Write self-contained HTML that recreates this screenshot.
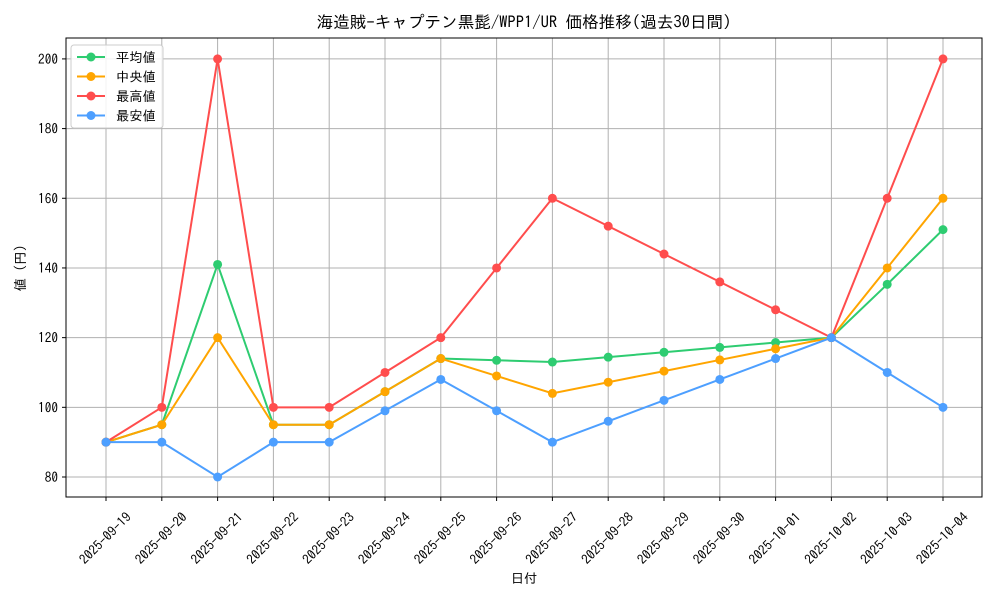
<!DOCTYPE html>
<html><head><meta charset="utf-8"><style>
body{margin:0;background:#fff;}
svg text{font-family:"IPAGothic","Noto Sans CJK JP",monospace;fill:#000;}
</style></head><body>
<svg id="chart" width="1000" height="600" xmlns="http://www.w3.org/2000/svg"></svg>
<script>
const categories=["2025-09-19","2025-09-20","2025-09-21","2025-09-22","2025-09-23","2025-09-24","2025-09-25","2025-09-26","2025-09-27","2025-09-28","2025-09-29","2025-09-30","2025-10-01","2025-10-02","2025-10-03","2025-10-04"];
const meanValues=[90,95,141,95,95,104.5,114,113.5,113,114.4,115.8,117.2,118.6,120,135.3,151];
const medianValues=[90,95,120,95,95,104.5,114,109,104,107.2,110.4,113.6,116.8,120,140,160];
const maxValues=[90,100,200,100,100,110,120,140,160,152,144,136,128,120,160,200];
const minValues=[90,90,80,90,90,99,108,99,90,96,102,108,114,120,110,100];
const yTicks=[80,100,120,140,160,180,200];
const seriesNames=["平均値","中央値","最高値","最安値"];

const svg=document.getElementById('chart');
const NS="http://www.w3.org/2000/svg";
const L=66,R=982,T=38,B=497;
const yMin=74.26,yMax=206.0;
const FS=13.3;
function xS(i){return 106+i*(943-106)/(categories.length-1);}
function yS(v){return B-(v-yMin)/(yMax-yMin)*(B-T);}
function mk(tag,attrs,parent){const e=document.createElementNS(NS,tag);for(const k in attrs)e.setAttribute(k,attrs[k]);(parent||svg).appendChild(e);return e;}

categories.forEach((c,i)=>{
  const g=mk('line',{x1:xS(i),x2:xS(i),y1:T,y2:B,stroke:'#b0b0b0','stroke-width':1});
  
  
  mk('line',{x1:xS(i),x2:xS(i),y1:B,y2:B+4,stroke:'#000'});
  const t=mk('text',{x:0,y:5,'font-size':FS,'text-anchor':'middle',transform:`translate(${xS(i)-1},${538}) rotate(-45)`});
  t.textContent=c;
  
  
});
yTicks.forEach(v=>{
  const g=mk('line',{x1:L,x2:R,y1:yS(v),y2:yS(v),stroke:'#b0b0b0','stroke-width':1});
  
  
  mk('line',{x1:L-4,x2:L,y1:yS(v),y2:yS(v),stroke:'#000'});
  const t=mk('text',{x:L-8,y:yS(v)+5,'font-size':FS,'text-anchor':'end'});
  t.textContent=v;
  
  
});
const frame=mk('rect',{x:L,y:T,width:R-L,height:B-T,fill:'none',stroke:'#000','stroke-width':1});



const series=[[meanValues,'#2ecc71','mean'],[medianValues,'#ffa500','median'],[maxValues,'#ff4d4d','max'],[minValues,'#4d9fff','min']];
series.forEach(([vals,col,nm])=>{
  const p=mk('polyline',{points:vals.map((v,i)=>xS(i)+','+yS(v)).join(' '),fill:'none',stroke:col,'stroke-width':2});
  
  
  vals.forEach((v,i)=>{
    const c=mk('circle',{cx:xS(i),cy:yS(v),r:4.5,fill:col});
    
    
  });
});

const lg=mk('g',{});


mk('rect',{x:71,y:45,width:92,height:83,rx:3,fill:'#fff','fill-opacity':0.85,stroke:'#ccc'},lg);
series.forEach(([v,col,nm],k)=>{
  const y=57+k*19.5;
  const e=mk('g',{},lg);
  
  
  mk('line',{x1:77,x2:105,y1:y,y2:y,stroke:col,'stroke-width':2},e);
  mk('circle',{cx:91,cy:y,r:4.5,fill:col},e);
  const t=mk('text',{x:116,y:y+5,'font-size':FS},e);
  t.textContent=seriesNames[k];
});

const title=mk('text',{x:524,y:28,'font-size':16.6,'text-anchor':'middle'});
title.textContent="海造賊-キャプテン黒髭/WPP1/UR 価格推移(過去30日間)";


const xt=mk('text',{x:524,y:583,'font-size':FS,'text-anchor':'middle'});
xt.textContent="日付";


const yt=mk('text',{x:0,y:0,'font-size':FS,'text-anchor':'middle',transform:'translate(25,268) rotate(-90)'});
yt.textContent="値 (円)";


</script>
</body></html>
